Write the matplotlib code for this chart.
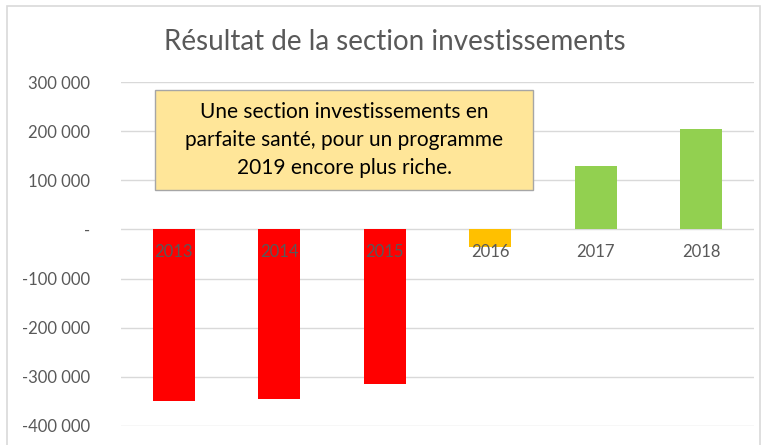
import matplotlib.pyplot as plt
from matplotlib.patches import Rectangle
from matplotlib.ticker import FuncFormatter, MultipleLocator

# données
annees = ["2013", "2014", "2015", "2016", "2017", "2018"]
resultats = [-350000, -346000, -315000, -35000, 130000, 205000]
couleurs = ["#FF0000", "#FF0000", "#FF0000", "#FFC000", "#92D050", "#92D050"]
titre = "Résultat de la section investissements"
commentaire = "Une section investissements en\nparfaite santé, pour un programme\n2019 encore plus riche."

plt.rcParams['font.family'] = ['Lato', 'DejaVu Sans']
gris = "#595959"

fig = plt.figure(figsize=(7.63, 4.45), dpi=100)
ax = fig.add_axes([0.1586, 0.0427, 0.8296, 0.773])

# cadre du graphique
fig.patches.append(Rectangle((7 / 763, -0.05), 753 / 763, 1 - 6 / 445 + 0.05,
                             transform=fig.transFigure, fill=False,
                             ec="#D9D9D9", lw=1.2))

x = range(len(annees))
ax.bar(x, resultats, width=0.4, color=couleurs, zorder=2)

ax.set_xlim(-0.5, len(annees) - 0.5)
ax.set_ylim(-400000, 300000)
ax.yaxis.set_major_locator(MultipleLocator(100000))


def fmt(v, pos):
    if v == 0:
        return "-"
    return f"{int(v):,}".replace(",", " ")


ax.yaxis.set_major_formatter(FuncFormatter(fmt))
ax.tick_params(axis='y', length=0, pad=22, labelsize=12, labelcolor=gris)
ax.set_xticks([])
ax.grid(axis='y', color="#D9D9D9", lw=1)
ax.set_axisbelow(True)
for s in ax.spines.values():
    s.set_visible(False)

# étiquettes des années sur l'axe zéro
for i, a in enumerate(annees):
    ax.annotate(a, (i, 0), xytext=(0, -16), textcoords='offset points',
                ha='center', va='center', fontsize=12, color=gris, zorder=3)

fig.text(0.5177, 0.9056, titre, ha='center', va='center', fontsize=20,
         color=gris)

# encadré de commentaire
fig.patches.append(Rectangle((155 / 763, 255 / 445), 378 / 763, 100 / 445,
                             transform=fig.transFigure, fc="#FFE699",
                             ec="#A6A6A6", lw=1, zorder=5))
fig.text(0.4509, 0.6854, commentaire, ha='center', va='center', fontsize=15,
         color="black", linespacing=1.5, zorder=6)

fig.savefig("out.png", dpi=100)
